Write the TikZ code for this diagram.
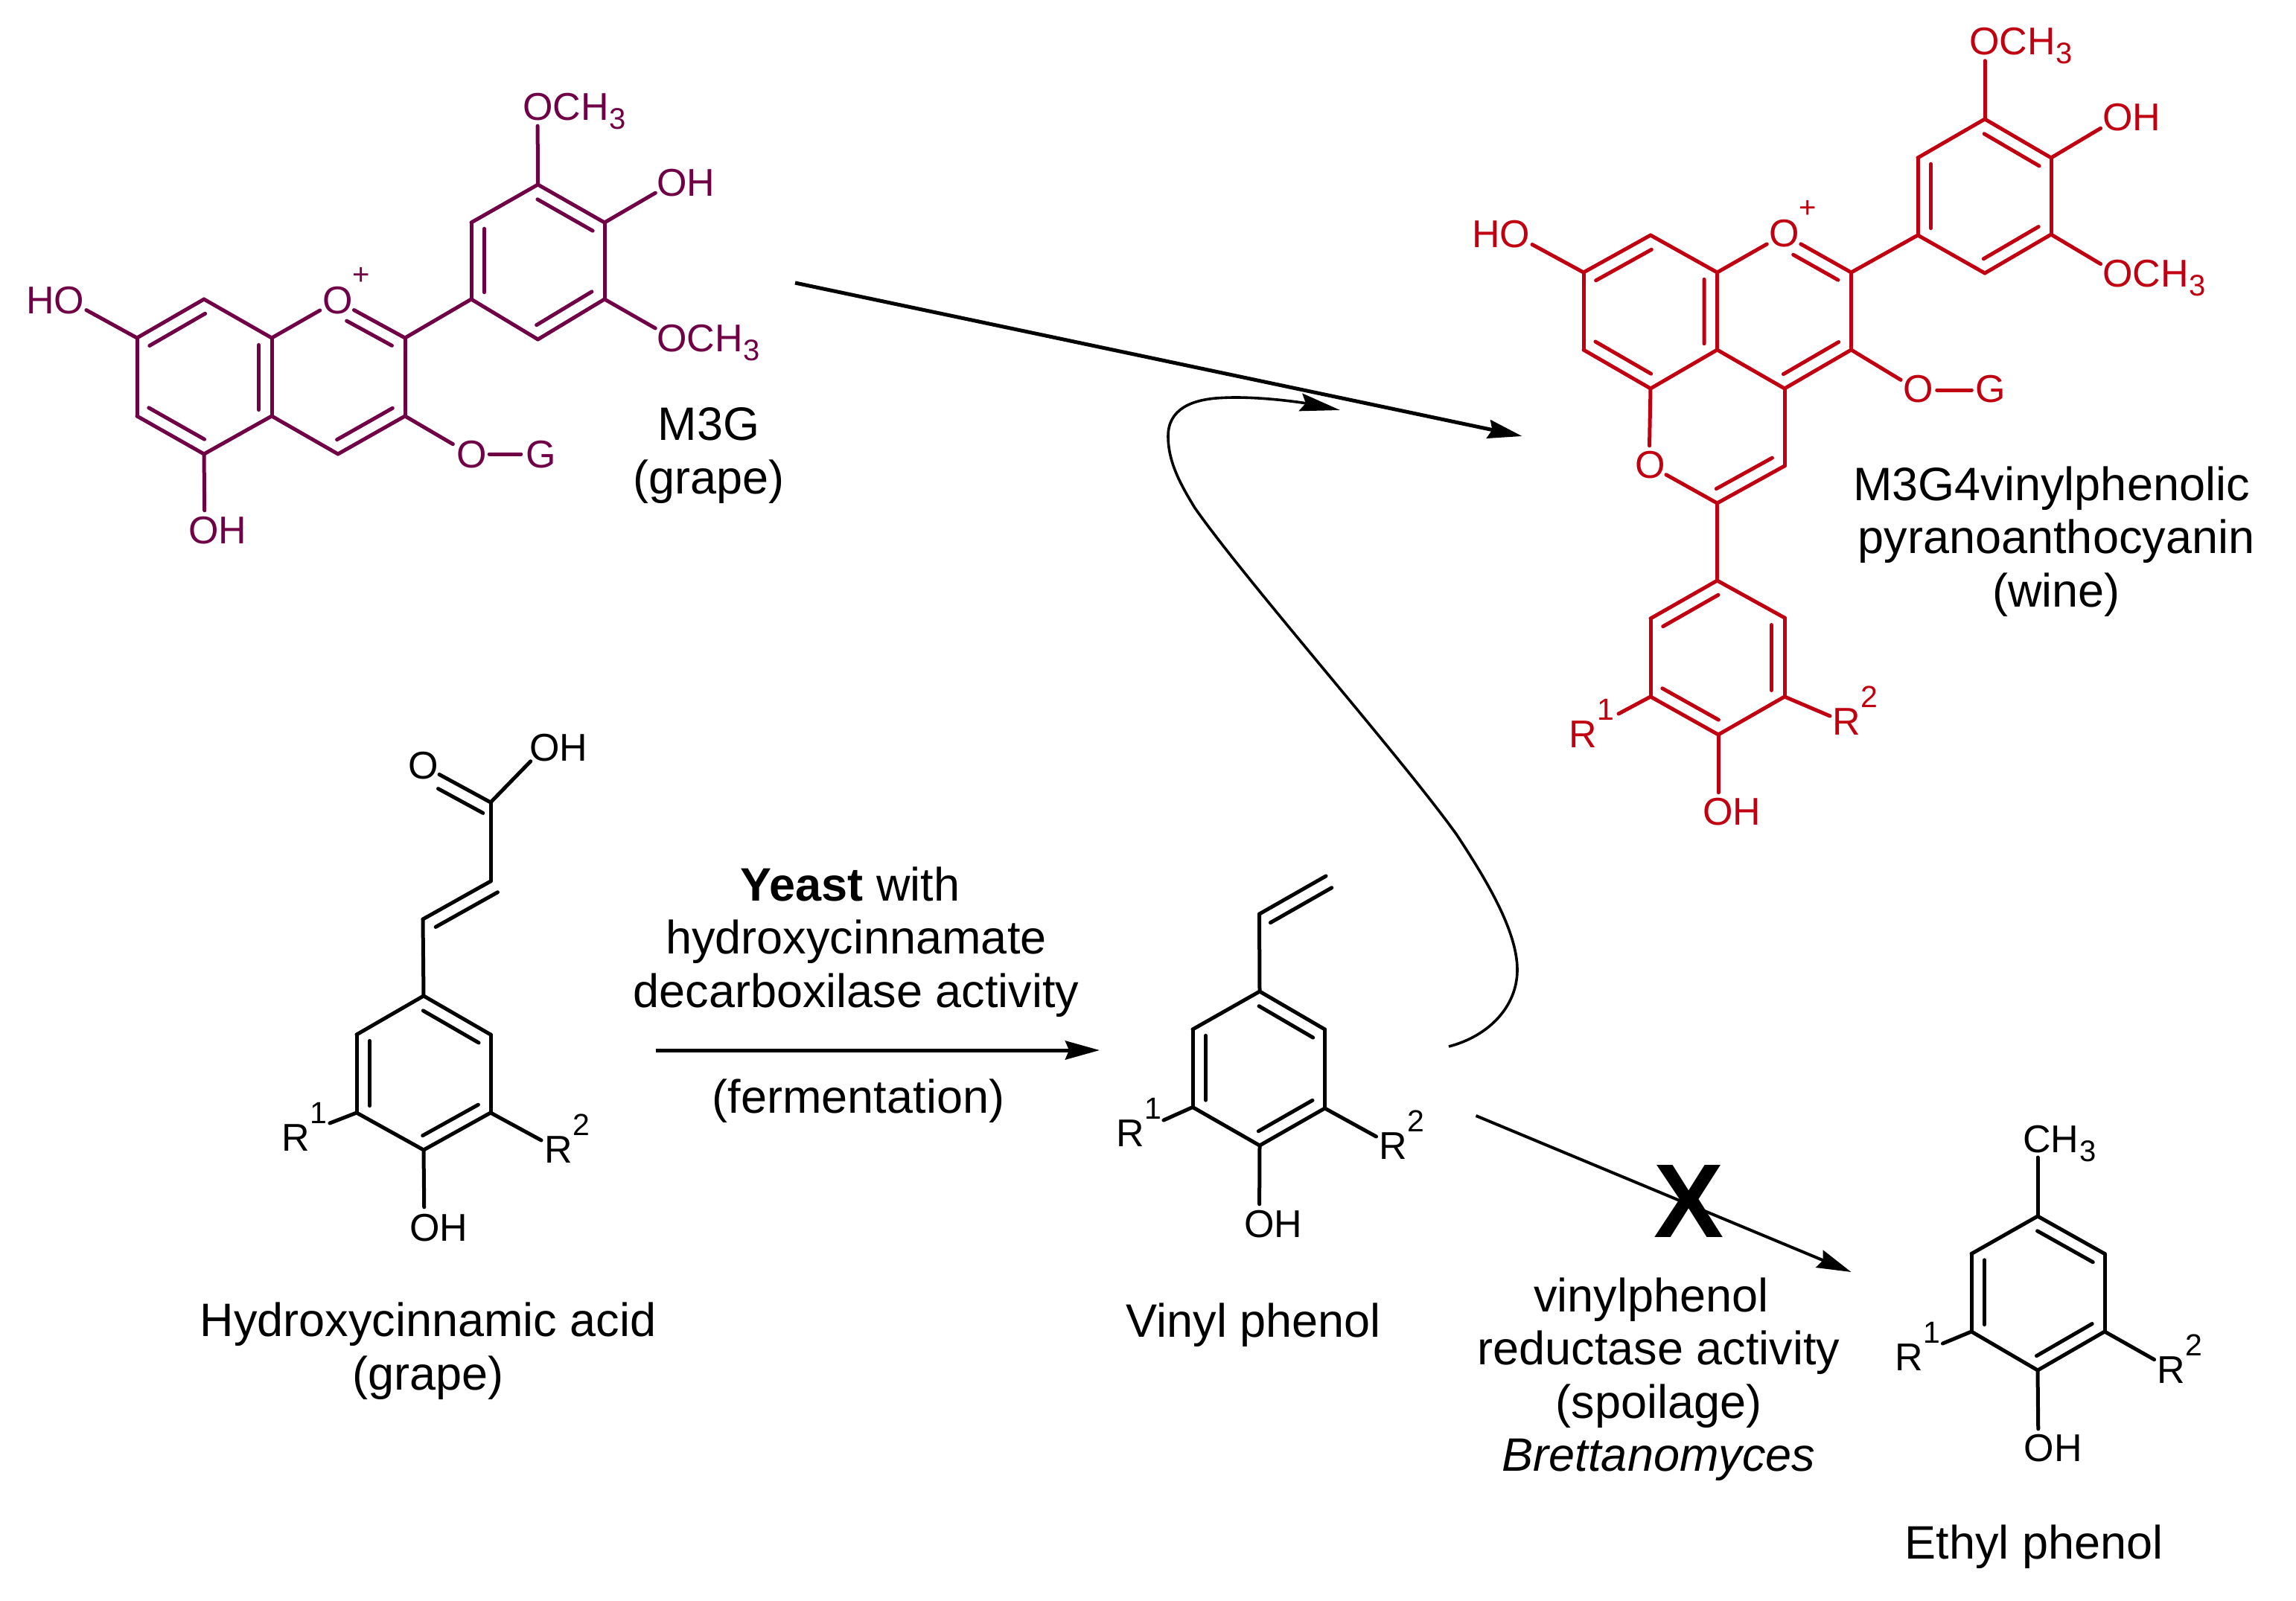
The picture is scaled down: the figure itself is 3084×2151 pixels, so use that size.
\documentclass[tikz,border=0pt]{standalone}
\usepackage{fontspec}
\setmainfont{Liberation Sans}
\usetikzlibrary{calc,arrows.meta}
\definecolor{grapecol}{RGB}{112,0,70}
\definecolor{winecol}{RGB}{192,0,16}
\newcommand{\chemfont}{\fontsize{52}{60}\selectfont}
\newcommand{\capfont}{\fontsize{63}{71.5}\selectfont}
\newcommand{\subthree}{\kern1pt\raisebox{-12pt}{\fontsize{40}{40}\selectfont 3}}
\newcommand{\rsup}[1]{R\kern1pt\raisebox{37pt}{\fontsize{41}{41}\selectfont #1}}
\newcommand{\ptcoord}[3]{\coordinate (#1) at (#2,#3);}
\newcommand{\atomlab}[6]{\node[tipatom] (#1) at (#2,#3) {};\node[chem] (#1t) at (#4,#5) {#6};}
\newcommand{\rlab}[4]{\node[chem] (#1) at (#2,#3) {\rsup{#4}};}
\newcommand{\bond}[2]{\draw[bondln] (#1) -- (#2);}
\newcommand{\rdb}[2]{\draw[bondln] ($(#1)!0.09!(#2)!17.5pt!-90:(#2)$) -- ($(#1)!0.92!(#2)!17.5pt!-90:(#2)$);}
\newcommand{\xdb}[5]{\draw[bondln] ($(#1)!#3!(#2)!17.5pt!#5:(#2)$) -- ($(#1)!#4!(#2)!17.5pt!#5:(#2)$);}
\tikzset{
  bondln/.style={line width=5pt,line cap=round},
  chem/.style={font=\chemfont,anchor=base west,inner sep=0pt},
  plusmark/.style={font=\fontsize{40}{40}\selectfont,inner sep=0pt},
  capt/.style={font=\capfont,align=center,anchor=base,inner sep=0pt},
  tipatom/.style={circle,inner sep=0pt,minimum size=52pt},
  headtip/.style={-{Stealth[length=46pt,width=25pt,inset=5pt]}},
  reactarrow/.style={headtip,line width=5pt},
  thinarrow/.style={headtip,line width=4pt},
  curvearrow/.style={-{Stealth[length=54pt,width=24pt,inset=7pt]},line width=3.6pt}
}
\begin{document}
\begin{tikzpicture}[x=1pt,y=-1pt]
\useasboundingbox (0,0) rectangle (3084,2151);
% ---------- M3G (grape)
\begin{scope}[color=grapecol]
\ptcoord{a7}{184}{454}\ptcoord{a8}{274}{402}\ptcoord{a8a}{365}{454}\ptcoord{a4a}{365}{559}
\ptcoord{a5}{274}{610}\ptcoord{a6}{184}{559}\ptcoord{a2}{544}{454}\ptcoord{a3}{544}{559}\ptcoord{a4}{454}{610}
\ptcoord{b1}{633}{402}\ptcoord{b2}{633}{299}\ptcoord{b3}{722.5}{248}\ptcoord{b4}{812}{299}\ptcoord{b5}{812}{402}\ptcoord{b6}{722.5}{456}
\atomlab{aOa}{722}{143}{702}{162}{OCH\subthree}
\atomlab{aOb}{903}{246}{882}{264}{OH}
\atomlab{aOr}{452.5}{404}{433.5}{421.5}{O}
\node[plusmark] (aplus) at (485,371) {+};
\atomlab{aOc}{903}{454}{882}{472}{OCH\subthree}
\atomlab{aOd}{93}{404}{35}{421.5}{HO}
\atomlab{aOe}{631}{610}{613}{628}{O}
\atomlab{aG}{726}{610}{706}{628}{G}
\atomlab{aOf}{275}{712}{253}{730}{OH}
\bond{a7}{a8}\bond{a8}{a8a}\bond{a8a}{a4a}\bond{a4a}{a5}\bond{a5}{a6}\bond{a6}{a7}
\bond{a8a}{aOr}\bond{aOr}{a2}\bond{a2}{a3}\bond{a3}{a4}\bond{a4}{a4a}
\bond{a2}{b1}\bond{b1}{b2}\bond{b2}{b3}\bond{b3}{b4}\bond{b4}{b5}\bond{b5}{b6}\bond{b6}{b1}
\bond{b3}{aOa}\bond{b4}{aOb}\bond{b5}{aOc}\bond{a7}{aOd}\bond{a3}{aOe}\bond{aOe}{aG}\bond{a5}{aOf}
\rdb{a7}{a8}\rdb{a8a}{a4a}\rdb{a5}{a6}\rdb{a3}{a4}\rdb{b1}{b2}\rdb{b3}{b4}\rdb{b5}{b6}
\xdb{aOr}{a2}{0.235}{0.9}{-90}
\end{scope}
\node[capt] (m3g) at (952,663) {M3G\\(grape)};
% ---------- pyranoanthocyanin (wine)
\begin{scope}[color=winecol]
\ptcoord{c7}{2127}{366}\ptcoord{c8}{2217}{316}\ptcoord{c8a}{2306.5}{366}\ptcoord{c4a}{2306.5}{470}
\ptcoord{c5}{2217}{522}\ptcoord{c6}{2127}{470}\ptcoord{c2}{2486.5}{366}\ptcoord{c3}{2486.5}{470}\ptcoord{c4}{2397}{522}
\ptcoord{c9}{2397}{626}\ptcoord{c10}{2306.5}{676}
\ptcoord{d1}{2576}{316}\ptcoord{d2}{2576}{212}\ptcoord{d3}{2666}{160}\ptcoord{d4}{2755}{212}\ptcoord{d5}{2755}{315}\ptcoord{d6}{2666}{367}
\ptcoord{e1}{2306.5}{780}\ptcoord{e2}{2217}{831}\ptcoord{e3}{2217}{936}\ptcoord{e4}{2308}{987}\ptcoord{e5}{2397}{936}\ptcoord{e6}{2397}{830}
\ptcoord{cR1end}{2174}{959}\ptcoord{cR2end}{2458}{962}
\atomlab{cOa}{2666}{55.5}{2645}{74}{OCH\subthree}
\atomlab{cOb}{2844}{159}{2824}{176}{OH}
\atomlab{cOc}{2844}{368}{2824}{385}{OCH\subthree}
\atomlab{cOr}{2396}{315}{2376}{331}{O}
\node[plusmark] (cplus) at (2428,281) {+};
\atomlab{cOd}{2035}{316}{1977}{333}{HO}
\atomlab{cOe}{2575.5}{524}{2556}{540}{O}
\atomlab{cG}{2674.5}{524}{2653}{540}{G}
\atomlab{cOp}{2215}{625}{2196}{642}{O}
\atomlab{cOf}{2308}{1091}{2287}{1108}{OH}
\rlab{cR1}{2107}{1004}{1}
\rlab{cR2}{2461}{987}{2}
\bond{c7}{c8}\bond{c8}{c8a}\bond{c8a}{c4a}\bond{c4a}{c5}\bond{c5}{c6}\bond{c6}{c7}
\bond{c8a}{cOr}\bond{cOr}{c2}\bond{c2}{c3}\bond{c3}{c4}\bond{c4}{c4a}\bond{c4}{c9}\bond{c9}{c10}\bond{c10}{cOp}\bond{cOp}{c5}
\bond{c2}{d1}\bond{d1}{d2}\bond{d2}{d3}\bond{d3}{d4}\bond{d4}{d5}\bond{d5}{d6}\bond{d6}{d1}
\bond{d3}{cOa}\bond{d4}{cOb}\bond{d5}{cOc}\bond{c7}{cOd}\bond{c3}{cOe}\bond{cOe}{cG}
\bond{c10}{e1}\bond{e1}{e2}\bond{e2}{e3}\bond{e3}{e4}\bond{e4}{e5}\bond{e5}{e6}\bond{e6}{e1}
\bond{e4}{cOf}\bond{e3}{cR1end}\bond{e5}{cR2end}
\rdb{c7}{c8}\rdb{c8a}{c4a}\rdb{c5}{c6}\rdb{c3}{c4}\rdb{c9}{c10}\rdb{d1}{d2}\rdb{d3}{d4}\rdb{d5}{d6}\rdb{e2}{e1}\rdb{e6}{e5}\rdb{e4}{e3}
\xdb{cOr}{c2}{0.235}{0.9}{-90}
\end{scope}
\node[capt] (wine) at (2762,815) {M3G4vinylphenolic\hspace*{13pt}\\pyranoanthocyanin\\(wine)};
% ---------- Hydroxycinnamic acid
\ptcoord{h0}{659}{1078}\ptcoord{h1}{659}{1184}\ptcoord{h2}{568}{1235}
\ptcoord{h3}{569}{1338}\ptcoord{h4}{659}{1390}\ptcoord{h5}{659}{1495}\ptcoord{h6}{569}{1545}\ptcoord{h7}{479}{1495}\ptcoord{h8}{479}{1390}
\ptcoord{hR1end}{443}{1509}\ptcoord{hR2end}{727}{1532}
\atomlab{hOa}{567}{1028}{548}{1046}{O}
\atomlab{hOb}{731}{1004}{711}{1022}{OH}
\atomlab{hOc}{570}{1648}{550}{1667}{OH}
\rlab{hR1}{378}{1546.5}{1}
\rlab{hR2}{731}{1562.5}{2}
\bond{hOa}{h0}\bond{h0}{hOb}\bond{h0}{h1}\bond{h1}{h2}\bond{h2}{h3}\bond{h3}{h4}\bond{h4}{h5}\bond{h5}{h6}\bond{h6}{h7}\bond{h7}{h8}\bond{h8}{h3}
\bond{h6}{hOc}\bond{h7}{hR1end}\bond{h5}{hR2end}
\rdb{h3}{h4}\rdb{h5}{h6}\rdb{h7}{h8}
\xdb{hOa}{h0}{0.325}{0.98}{-90}
\xdb{h1}{h2}{-0.01}{0.905}{90}
\node[capt] (hca) at (575,1867) {Hydroxycinnamic acid\\(grape)};
% ---------- Vinyl phenol
\ptcoord{v0}{1781}{1177}\ptcoord{v1}{1691.5}{1228}
\ptcoord{v3}{1692}{1332}\ptcoord{v4}{1779.5}{1383}\ptcoord{v5}{1779.5}{1489}\ptcoord{v6}{1692}{1539}\ptcoord{v7}{1602}{1487.5}\ptcoord{v8}{1602}{1383}
\ptcoord{vR1end}{1563}{1505}\ptcoord{vR2end}{1848.5}{1527}
\atomlab{vOc}{1691.5}{1644}{1671}{1662}{OH}
\rlab{vR1}{1499}{1540}{1}
\rlab{vR2}{1852}{1557.6}{2}
\bond{v0}{v1}\bond{v1}{v3}\bond{v3}{v4}\bond{v4}{v5}\bond{v5}{v6}\bond{v6}{v7}\bond{v7}{v8}\bond{v8}{v3}
\bond{v6}{vOc}\bond{v7}{vR1end}\bond{v5}{vR2end}
\rdb{v3}{v4}\rdb{v5}{v6}\rdb{v7}{v8}
\xdb{v1}{v0}{0.07}{0.99}{-90}
\node[capt] (vp) at (1684,1796) {Vinyl phenol};
% ---------- Ethyl phenol
\ptcoord{t3}{2737}{1634}\ptcoord{t4}{2827}{1684.5}\ptcoord{t5}{2827}{1789}\ptcoord{t6}{2737}{1841}\ptcoord{t7}{2648}{1789}\ptcoord{t8}{2648}{1684.5}
\ptcoord{tR1end}{2609.5}{1805}\ptcoord{tR2end}{2893.6}{1826.6}\ptcoord{tCend}{2737}{1555}
\node[chem] (tCH) at (2717,1548) {CH\subthree};
\atomlab{tOc}{2738}{1946}{2718.5}{1963.5}{OH}
\rlab{tR1}{2545}{1841.6}{1}
\rlab{tR2}{2897}{1858}{2}
\bond{tCend}{t3}\bond{t3}{t4}\bond{t4}{t5}\bond{t5}{t6}\bond{t6}{t7}\bond{t7}{t8}\bond{t8}{t3}
\bond{t6}{tOc}\bond{t7}{tR1end}\bond{t5}{tR2end}
\rdb{t3}{t4}\rdb{t5}{t6}\rdb{t7}{t8}
\node[capt] (ep) at (2732,2094) {Ethyl phenol};
% ---------- reaction texts
\node[capt] (yeast) at (1150,1353) {{\bfseries Yeast} with\hspace*{16pt}\\hydroxycinnamate\hspace*{10pt}\\decarboxilase activity};
\node[capt] (ferm) at (1153,1495) {(fermentation)};
\node[capt] (spoil) at (2228,1976.5) {vinylphenol\hspace*{20pt}\\reductase activity\\(spoilage)\\\itshape Brettanomyces};
% ---------- arrows
\ptcoord{l1s}{1068}{380}\ptcoord{l1e}{2044.5}{586}
\ptcoord{l2s}{881}{1411}\ptcoord{l2e}{1477}{1411}
\ptcoord{l3s}{1982.5}{1499}\ptcoord{l3e}{2486.5}{1709}
\ptcoord{l4s}{1946}{1406}\ptcoord{l4e}{1800}{551}
\draw[reactarrow] (l1s) -- (l1e);
\draw[reactarrow] (l2s) -- (l2e);
\draw[thinarrow] (l3s) -- (l3e);
\draw[curvearrow] (l4s) .. controls (2000,1392) and (2038,1352) .. (2038,1303)
  .. controls (2038,1250) and (1995,1180) .. (1957,1122)
  .. controls (1882,1017) and (1675,782.5) .. (1605,682.5)
  .. controls (1585,650) and (1569,620) .. (1569,586)
  .. controls (1569,550) and (1600,536) .. (1643,534.4)
  .. controls (1690,532) and (1750,541) .. (l4e);
\node[font=\fontsize{141}{141}\selectfont\bfseries,anchor=base,inner sep=0pt] (xmark) at (2268,1662) {X};
\end{tikzpicture}
\end{document}
